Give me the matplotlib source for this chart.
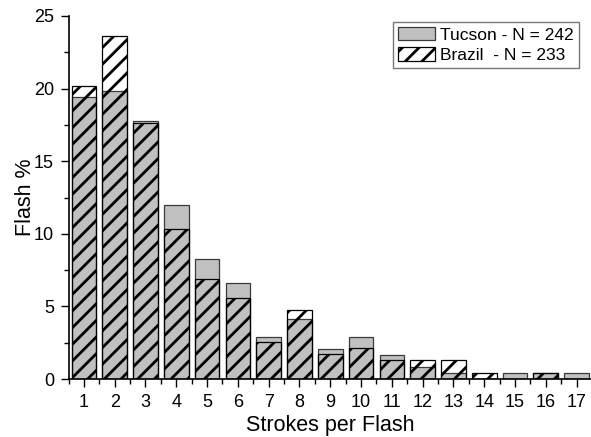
import numpy as np
import matplotlib
matplotlib.use('Agg')
import matplotlib.pyplot as plt
from matplotlib.ticker import MultipleLocator

# Данные (Flash %)
strokes = list(range(1, 18))
tucson = [19.42, 19.83, 17.77, 11.98, 8.26, 6.61, 2.89, 4.13, 2.07, 2.89,
          1.65, 0.83, 0.41, 0.0, 0.41, 0.41, 0.41]
brazil = [20.17, 23.61, 17.60, 10.30, 6.87, 5.58, 2.58, 4.72, 1.72, 2.15,
          1.29, 1.29, 1.29, 0.43, 0.0, 0.43, 0.0]
tucson_label = 'Tucson - N = 242'
brazil_label = 'Brazil  - N = 233'

plt.rcParams['font.family'] = ['Liberation Sans', 'DejaVu Sans']
plt.rcParams['hatch.linewidth'] = 2.0
plt.rcParams['hatch.color'] = 'black'

fig = plt.figure(figsize=(5.91, 4.37), dpi=100)
ax = fig.add_axes([68.5 / 591, 58 / 437, (592 - 68.5) / 591, (379 - 16) / 437])

ax.bar(strokes, tucson, width=0.8, color='#c0c0c0', edgecolor='#3a3a3a',
       linewidth=0.9, label=tucson_label, zorder=2)
ax.bar(strokes, brazil, width=0.8, facecolor='none', edgecolor='black',
       hatch='//', linewidth=0.9, label=brazil_label, zorder=3)

ax.set_xlim(0.5, 17.5)
ax.set_ylim(0, 25)
ax.set_xticks(strokes)
ax.xaxis.set_minor_locator(MultipleLocator(0.5))
ax.yaxis.set_major_locator(MultipleLocator(5))
ax.yaxis.set_minor_locator(MultipleLocator(2.5))
ax.tick_params(which='major', direction='out', length=6, width=1,
               labelsize=13, pad=4.5)
ax.tick_params(which='minor', direction='out', length=3.5, width=1)

for s in ['top', 'right']:
    ax.spines[s].set_visible(False)
for s in ['left', 'bottom']:
    ax.spines[s].set_linewidth(1.2)

ax.set_xlabel('Strokes per Flash', fontsize=15.5, labelpad=3)
ax.set_ylabel('Flash %', fontsize=15.5, labelpad=-1.5)

# Легенда
leg = ax.legend(loc='upper right', bbox_to_anchor=(579 / 591, 1 - 22 / 437),
                bbox_transform=fig.transFigure, fontsize=12.5, fancybox=False,
                handlelength=2.1, handleheight=0.8, handletextpad=0.3,
                borderpad=0.3, labelspacing=0.25, borderaxespad=0)
leg.get_frame().set_edgecolor('#555555')
leg.get_frame().set_linewidth(1.0)

plt.savefig('out.png', dpi=100)
